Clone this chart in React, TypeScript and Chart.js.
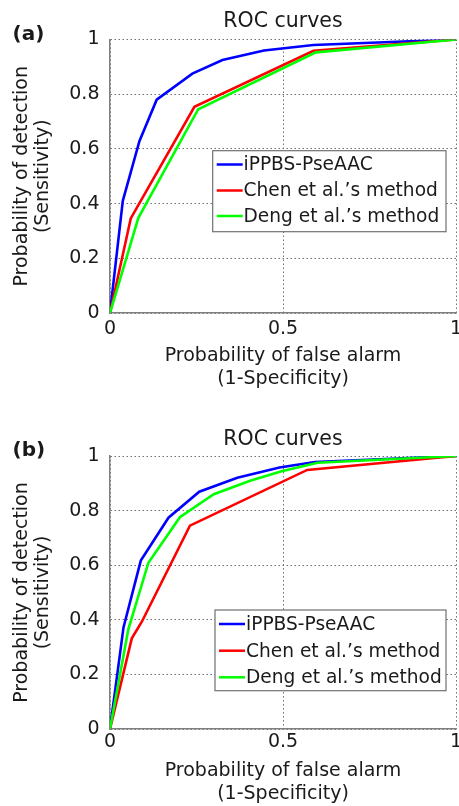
import React, { useEffect, useRef } from 'react';
import { Chart, registerables } from 'chart.js';

Chart.register(...registerables);
Chart.defaults.font.family = '"DejaVu Sans", "Liberation Sans", sans-serif';

// ---------- data ----------
const xTicks = [0, 0.5, 1];
const xTickLabels = ['0', '0.5', '1'];
const yTicks = [0, 0.2, 0.4, 0.6, 0.8, 1];
const yTickLabels = ['0', '0.2', '0.4', '0.6', '0.8', '1'];

const seriesNames = ['iPPBS-PseAAC', 'Chen et al.\u2019s method', 'Deng et al.\u2019s method'];
const panelTitle = 'ROC curves';
const xAxisTitle = ['Probability of false alarm', '(1-Specificity)'];
const yAxisTitle = ['Probability of detection', '(Sensitivity)'];

// Panel (a)
const blueAx = [0, 0.037, 0.085, 0.135, 0.238, 0.325, 0.445, 0.588, 1];
const blueAy = [0, 0.41, 0.628, 0.78, 0.875, 0.925, 0.96, 0.98, 1];
const redAx = [0, 0.06, 0.244, 0.588, 1];
const redAy = [0, 0.346, 0.754, 0.959, 1];
const greenAx = [0, 0.082, 0.255, 0.595, 1];
const greenAy = [0, 0.348, 0.745, 0.953, 1];

// Panel (b)
const blueBx = [0, 0.039, 0.089, 0.169, 0.258, 0.368, 0.49, 0.592, 1];
const blueBy = [0, 0.372, 0.617, 0.774, 0.869, 0.92, 0.958, 0.978, 1];
const redBx = [0, 0.063, 0.092, 0.231, 0.57, 1];
const redBy = [0, 0.332, 0.393, 0.745, 0.949, 1];
const greenBx = [0, 0.053, 0.111, 0.202, 0.3, 0.405, 0.496, 0.6, 1];
const greenBy = [0, 0.365, 0.609, 0.776, 0.86, 0.909, 0.944, 0.975, 1];

// ---------- styles ----------
const colors = ['#0000ff', '#ff0000', '#00ff00'];
const textColor = '#1a1a1a';

type PanelCfg = {
  label: string;
  series: { x: number[]; y: number[] }[];
  padTop: number;
  xAxisH: number;
  xTickPad: number;
  xTitlePadB: number;
  titleY: number;
  labelY: number;
  legend: { x: number; y: number; w: number; h: number; rows: number[]; lx0: number; lx1: number; tx: number };
};

const panelA: PanelCfg = {
  label: '(a)',
  series: [
    { x: blueAx, y: blueAy },
    { x: redAx, y: redAy },
    { x: greenAx, y: greenAy },
  ],
  padTop: 39.5,
  xAxisH: 90,
  xTickPad: 5,
  xTitlePadB: 12.5,
  titleY: 21.7,
  labelY: 34.8,
  legend: { x: 212.7, y: 150.7, w: 233.3, h: 81, rows: [164.5, 190.5, 216], lx0: 216.7, lx1: 242.7, tx: 243.5 },
};

const panelB: PanelCfg = {
  label: '(b)',
  series: [
    { x: blueBx, y: blueBy },
    { x: redBx, y: redBy },
    { x: greenBx, y: greenBy },
  ],
  padTop: 53,
  xAxisH: 77,
  xTickPad: 1.5,
  xTitlePadB: 0.5,
  titleY: 36.2,
  labelY: 47.5,
  legend: { x: 215, y: 207, w: 231, h: 80.7, rows: [221, 247.7, 274.3], lx0: 219, lx1: 245, tx: 246 },
};

const FONT = '"DejaVu Sans", "Liberation Sans", sans-serif';

function Panel({ cfg }: { cfg: PanelCfg }) {
  const ref = useRef<HTMLCanvasElement>(null);

  useEffect(() => {
    const canvas = ref.current!;
    const overlay = {
      id: 'overlay',
      afterDatasetsDraw(chart: any) {
        const ctx: CanvasRenderingContext2D = chart.ctx;
        const L = cfg.legend;
        ctx.save();
        ctx.fillStyle = '#ffffff';
        ctx.fillRect(L.x, L.y, L.w, L.h);
        ctx.strokeStyle = '#707070';
        ctx.lineWidth = 1.2;
        ctx.strokeRect(L.x, L.y, L.w, L.h);
        ctx.font = `18.6px ${FONT}`;
        ctx.textBaseline = 'middle';
        ctx.textAlign = 'left';
        seriesNames.forEach((name, i) => {
          const y = L.rows[i];
          ctx.strokeStyle = colors[i];
          ctx.lineWidth = 2.5;
          ctx.beginPath();
          ctx.moveTo(L.lx0, y);
          ctx.lineTo(L.lx1, y);
          ctx.stroke();
          ctx.fillStyle = textColor;
          ctx.fillText(name, L.tx, y + 1);
        });
        ctx.restore();
      },
      afterDraw(chart: any) {
        const ctx: CanvasRenderingContext2D = chart.ctx;
        const area = chart.chartArea;
        ctx.save();
        ctx.fillStyle = textColor;
        ctx.textBaseline = 'middle';
        ctx.textAlign = 'center';
        ctx.font = `20.5px ${FONT}`;
        ctx.fillText(panelTitle, (area.left + area.right) / 2, cfg.titleY);
        ctx.textAlign = 'left';
        ctx.font = `bold 20px ${FONT}`;
        ctx.fillText(cfg.label, 12.5, cfg.labelY);
        ctx.restore();
      },
    };

    const chart = new Chart(canvas, {
      type: 'line',
      data: {
        datasets: cfg.series.map((s, i) => ({
          label: seriesNames[i],
          data: s.x.map((x, j) => ({ x, y: s.y[j] })),
          borderColor: colors[i],
          backgroundColor: colors[i],
          borderWidth: 2.6,
          pointRadius: 0,
          tension: 0,
          fill: false,
          order: 3 - i,
        })),
      },
      options: {
        responsive: false,
        animation: false,
        devicePixelRatio: 1,
        layout: { padding: { top: cfg.padTop, right: 3, left: 0, bottom: 0 } },
        plugins: {
          legend: { display: false },
          tooltip: { enabled: false },
          title: { display: false },
        },
        scales: {
          x: {
            type: 'linear',
            min: 0,
            max: 1,
            afterFit: (s: any) => {
              s.height = cfg.xAxisH;
              s.paddingLeft = 0;
              s.paddingRight = 0;
            },
            afterBuildTicks: (s: any) => {
              s.ticks = xTicks.map((v) => ({ value: v }));
            },
            ticks: {
              callback: (_v: any, i: number) => xTickLabels[i],
              padding: cfg.xTickPad,
              color: textColor,
              font: { size: 19 },
              maxRotation: 0,
              autoSkip: false,
            },
            grid: { color: '#707070', lineWidth: 1, drawTicks: false },
            border: { display: true, color: '#808080', width: 1.5, dash: [1.5, 2.5] },
            title: {
              display: true,
              text: xAxisTitle,
              color: textColor,
              font: { size: 19, lineHeight: '23px' },
              padding: { top: 0, bottom: cfg.xTitlePadB },
            },
          },
          y: {
            type: 'linear',
            min: 0,
            max: 1,
            afterFit: (s: any) => {
              s.width = 110;
              s.paddingTop = 0;
              s.paddingBottom = 0;
            },
            afterBuildTicks: (s: any) => {
              s.ticks = yTicks.map((v) => ({ value: v }));
            },
            ticks: {
              callback: (_v: any, i: number) => yTickLabels[i],
              padding: 10.5,
              color: textColor,
              font: { size: 19 },
              autoSkip: false,
            },
            grid: { color: '#707070', lineWidth: 1, drawTicks: false },
            border: { display: true, color: '#808080', width: 1.5, dash: [1.5, 2.5] },
            title: {
              display: true,
              text: yAxisTitle,
              color: textColor,
              font: { size: 19, lineHeight: '21.5px' },
              padding: { top: 11.25, bottom: 0 },
            },
          },
        },
      } as any,
      plugins: [overlay],
    });
    return () => chart.destroy();
  }, [cfg]);

  return <canvas ref={ref} width={459} height={403} style={{ display: 'block', width: 459, height: 403 }} />;
}

export default function App() {
  return (
    <div style={{ position: 'absolute', left: 0, top: 0, width: 459, height: 806, background: '#ffffff' }}>
      <Panel cfg={panelA} />
      <Panel cfg={panelB} />
    </div>
  );
}
